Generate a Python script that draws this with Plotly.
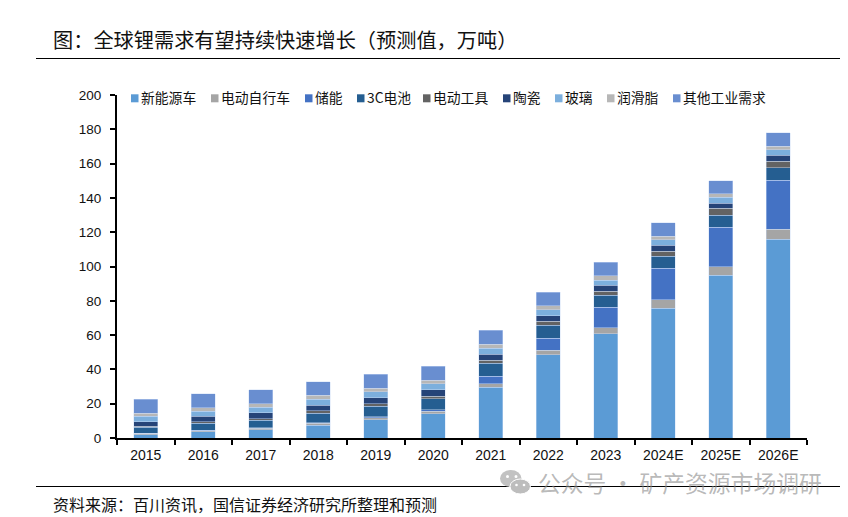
import plotly.graph_objects as go

years = ["2015","2016","2017","2018","2019","2020","2021","2022","2023","2024E","2025E","2026E"]
names = ["新能源车","电动自行车","储能","3C电池","电动工具","陶瓷","玻璃","润滑脂","其他工业需求"]
nev     = [2.0,3.7,4.7,7.4,10.5,14.0,29.5,48.4,60.8,75.8,95.0,116.0]
ebike   = [0.8,0.6,1.1,1.1,1.2,1.6,2.0,2.9,3.5,4.7,5.0,5.7]
storage = [0.1,0.1,0.2,0.4,0.6,1.0,4.5,7.0,11.9,18.5,23.0,28.7]
c3      = [3.3,4.1,4.4,5.5,6.2,6.2,7.5,7.4,7.0,7.0,7.0,7.2]
tools   = [0.6,1.0,0.8,1.5,1.5,1.6,1.8,2.3,2.5,3.0,3.9,3.9]
ceramic = [2.7,3.1,3.5,3.3,3.5,3.7,3.6,3.3,3.5,3.5,3.1,3.5]
glass   = [3.1,2.9,3.1,3.3,3.4,3.4,3.5,3.4,2.9,3.0,3.3,3.0]
lube    = [1.9,2.1,2.3,2.3,2.2,2.2,2.2,2.3,2.5,2.1,2.0,2.0]
other   = [8.0,8.2,8.0,8.0,8.0,8.0,8.2,8.1,8.0,8.0,7.7,8.0]
series = [nev,ebike,storage,c3,tools,ceramic,glass,lube,other]
colors = ["#5B9BD5","#A5A5A5","#4472C4","#255E91","#636363","#264478","#7CAFDD","#B7B7B7","#698ED0"]
legend_x = [131,211,305,357,423,503,555,607,673]

OFF = 8  # page margin round the figure
W,H = 848,517
L,R,T,B = 117,807,95,438
px = lambda x:(x-L)/(R-L)
py = lambda y:(B-y)/(B-T)
CJK = "Noto Sans CJK SC"

fig = go.Figure()
for n,v,c in zip(names,series,colors):
    fig.add_bar(x=years,y=v,name=n,showlegend=False,
                marker=dict(color=c,line=dict(width=0.8,color="rgba(205,220,245,0.55)")))

shapes=[]; ann=[]
def text(x,y,s,size,color="#000000",font=CJK):
    ann.append(dict(x=px(x),y=py(y),xref="paper",yref="paper",text=s,showarrow=False,xanchor="left",yanchor="middle",
                    font=dict(family=font,size=size,color=color)))
def disc(x0,x1,y0,y1,fill,line=None):
    shapes.append(dict(type="circle",xref="paper",yref="paper",x0=px(x0),x1=px(x1),y0=py(y1),y1=py(y0),fillcolor=fill,
                       line=dict(color=line,width=1) if line else dict(width=0)))
text(51,39.5,"图：全球锂需求有望持续快速增长（预测值，万吨）",20.2,"#111111")
text(51,504,"资料来源：百川资讯，国信证券经济研究所整理和预测",16,"#111111")
for n,c,x in zip(names,colors,legend_x):
    shapes.append(dict(type="rect",xref="paper",yref="paper",x0=px(x),x1=px(x+7.5),y0=py(102.3),y1=py(94.3),fillcolor=c,line_width=0))
    text(x+8.2,97,n,13.8,"#111111")
for y in (58.5,486.5):
    shapes.append(dict(type="line",xref="paper",yref="paper",x0=px(36),x1=px(848),y0=py(y),y1=py(y),line=dict(color="#000000",width=1)))
# watermark
disc(500,521.5,470,487,"#C2C2C2")
disc(510,530.5,479,494,"#BDBDBD","#FFFFFF")
for cx,cy,s in ((507.5,476.5,1.5),(516,476.5,1.5),(516.5,485,1.3),(524,485,1.3)):
    disc(cx-s,cx+s,cy-s,cy+s,"#FFFFFF")
text(535.5,482.7,"公众号 · 矿产资源市场调研",22.8,"rgba(140,140,140,0.62)")

fig.update_layout(
    barmode="stack",bargap=0.585,width=W,height=H,
    margin=dict(l=L-OFF,r=W-(R-OFF),t=T-OFF,b=H-(B-OFF),pad=0),
    paper_bgcolor="white",plot_bgcolor="white",
    font=dict(family="Liberation Sans, Arial",size=13.5,color="#111111"),
    shapes=shapes,annotations=ann,
    xaxis=dict(type="category",tickson="boundaries",ticks="outside",ticklen=5,tickwidth=1.6,tickcolor="black",
               showline=True,linecolor="black",linewidth=2,showgrid=False,tickfont=dict(size=14),ticklabelstandoff=3),
    yaxis=dict(range=[0,200],dtick=20,ticks="outside",ticklen=5,tickwidth=1.6,tickcolor="black",
               showline=True,linecolor="black",linewidth=2,showgrid=False,zeroline=False,tickfont=dict(size=13.5),ticklabelstandoff=6),
)
fig.write_html("out.html")
